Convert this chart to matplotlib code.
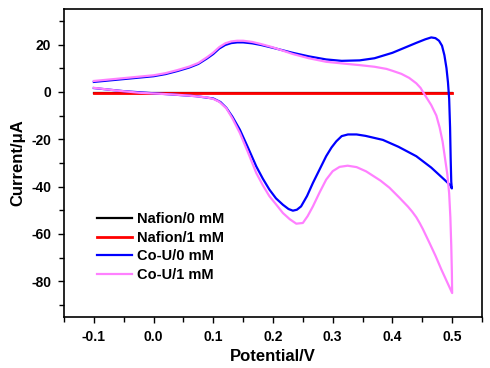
import matplotlib

matplotlib.use("Agg")
import matplotlib.pyplot as plt
from matplotlib.ticker import MultipleLocator

plt.rcParams["font.family"] = ["Liberation Sans", "DejaVu Sans"]
plt.rcParams["font.weight"] = "bold"
plt.rcParams["axes.unicode_minus"] = False

# Nafion electrodes: flat response
nafion_v = [-0.1, 0.0, 0.1, 0.2, 0.3, 0.4, 0.5]
nafion0_i = [-0.3, -0.3, -0.3, -0.3, -0.3, -0.3, -0.3]
nafion1_i = [-0.3, -0.3, -0.3, -0.3, -0.3, -0.3, -0.3]

# Co-U / 0 mM, closed scan (upper branch then lower branch)
cou0_v = [-0.1, -0.05, 0.0, 0.02, 0.04, 0.06, 0.075, 0.09, 0.1, 0.11, 0.12,
          0.13, 0.14, 0.15, 0.165, 0.18, 0.2, 0.233, 0.26, 0.289, 0.315,
          0.345, 0.37, 0.4, 0.42, 0.44, 0.455, 0.465, 0.472, 0.478, 0.483,
          0.487, 0.4905, 0.493, 0.495, 0.4965, 0.4975, 0.4985, 0.4995,
          0.497, 0.49, 0.465, 0.44, 0.41, 0.384, 0.355, 0.34, 0.3255, 0.315,
          0.306, 0.298, 0.289, 0.278, 0.2668, 0.257, 0.247, 0.24, 0.2333,
          0.226, 0.2166, 0.205, 0.194, 0.183, 0.172, 0.158, 0.1445, 0.132,
          0.122, 0.112, 0.1, 0.07, 0.03, 0.0, -0.05, -0.1]
cou0_i = [4.2, 5.4, 6.6, 7.5, 8.8, 10.3, 11.8, 14.2, 16.0, 18.3, 19.8,
          20.6, 20.9, 20.9, 20.5, 19.8, 18.6, 16.5, 15.0, 13.7, 13.1,
          13.3, 14.2, 16.5, 18.6, 20.7, 22.2, 23.0, 22.7, 21.6, 19.5,
          15.5, 10.0, 4.0, -3.0, -15.0, -28.0, -38.0, -40.8,
          -39.5, -37.8, -32.0, -27.2, -23.2, -20.3, -18.6, -18.0, -18.0, -18.7,
          -20.9, -23.5, -27.2, -32.8, -38.5, -44.0, -48.4, -49.8, -50.2,
          -49.5, -47.7, -45.0, -41.3, -36.7, -31.5, -23.5, -16.0, -10.5,
          -6.8, -4.3, -2.8, -1.8, -1.1, -0.6, 0.3, 1.6]

# Co-U / 1 mM
cou1_v = [-0.1, -0.05, 0.0, 0.02, 0.04, 0.06, 0.075, 0.09, 0.1, 0.11, 0.12,
          0.13, 0.14, 0.15, 0.165, 0.18, 0.2, 0.233, 0.26, 0.289, 0.32,
          0.345, 0.37, 0.39, 0.4, 0.415, 0.428, 0.44, 0.447, 0.452, 0.458,
          0.465, 0.4735, 0.479, 0.484, 0.488, 0.492, 0.495, 0.497, 0.4985,
          0.4995, 0.5,
          0.49, 0.482, 0.472, 0.462, 0.451, 0.446, 0.44, 0.433, 0.426, 0.412,
          0.395, 0.38, 0.356, 0.34, 0.325, 0.3115, 0.3, 0.289, 0.278, 0.2668,
          0.258, 0.25, 0.239, 0.228, 0.2166, 0.205, 0.194, 0.183, 0.172, 0.158,
          0.1445, 0.132, 0.122, 0.11, 0.1, 0.088, 0.06, 0.032, -0.023, -0.06,
          -0.1]
cou1_i = [4.6, 5.8, 7.0, 7.9, 9.2, 10.7, 12.2, 14.7, 16.6, 18.9, 20.5,
          21.3, 21.6, 21.6, 21.1, 20.2, 18.8, 16.0, 14.2, 12.7, 11.9,
          11.3, 10.6, 9.7, 8.9, 7.6, 5.9, 3.6, 1.7, -0.4, -2.8,
          -5.6, -10.0, -15.0, -21.0, -28.0, -35.0, -43.0, -53.0, -65.0,
          -76.0, -85.0,
          -79.5, -75.1, -69.2, -63.8, -58.0, -55.6, -53.0, -50.6, -48.5, -44.8,
          -40.5, -37.5, -33.6, -31.8, -31.2, -31.7, -33.5, -37.1, -42.5, -48.4,
          -52.5, -55.4, -55.7, -53.8, -51.2, -47.5, -44.1, -39.5, -34.3, -25.5,
          -17.4, -11.2, -7.0, -4.2, -3.0, -2.3, -1.6, -1.1, -0.4, 0.5,
          1.7]

fig = plt.figure(figsize=(4.9, 3.68), dpi=100)
ax = fig.add_axes([0.1306, 0.1394, 0.8531, 0.8361])

ax.plot(nafion_v, nafion0_i, color="black", lw=1.6, label="Nafion/0 mM")
ax.plot(nafion_v, nafion1_i, color="#ff0000", lw=2.0, label="Nafion/1 mM")
ax.plot(cou0_v, cou0_i, color="#0000ff", lw=1.6, label="Co-U/0 mM")
ax.plot(cou1_v, cou1_i, color="#ff80ff", lw=1.6, label="Co-U/1 mM")

ax.set_xlim(-0.15, 0.55)
ax.set_ylim(-95, 35)
ax.xaxis.set_minor_locator(MultipleLocator(0.05))
ax.yaxis.set_minor_locator(MultipleLocator(10))
ax.set_xticks([-0.1, 0.0, 0.1, 0.2, 0.3, 0.4, 0.5])
ax.set_xticklabels(["-0.1", "0.0", "0.1", "0.2", "0.3", "0.4", "0.5"])
ax.set_yticks([-80, -60, -40, -20, 0, 20])
ax.tick_params(which="both", direction="out", top=False, right=False,
               labelsize=10, width=1.0, pad=5)
ax.tick_params(which="major", length=4.3)
ax.tick_params(which="minor", length=3.5)
for sp in ax.spines.values():
    sp.set_linewidth(1.2)

ax.set_xlabel("Potential/V", fontsize=12, fontweight="bold", labelpad=4)
ax.set_ylabel("Current/\u03bcA", fontsize=12, fontweight="bold", labelpad=4)

ax.legend(loc="upper left", bbox_to_anchor=(0.08, 0.34), frameon=False,
          fontsize=10.5, handlelength=2.4, handletextpad=0.3, labelspacing=0.32,
          borderpad=0, borderaxespad=0)

fig.savefig("out.png", dpi=100)
